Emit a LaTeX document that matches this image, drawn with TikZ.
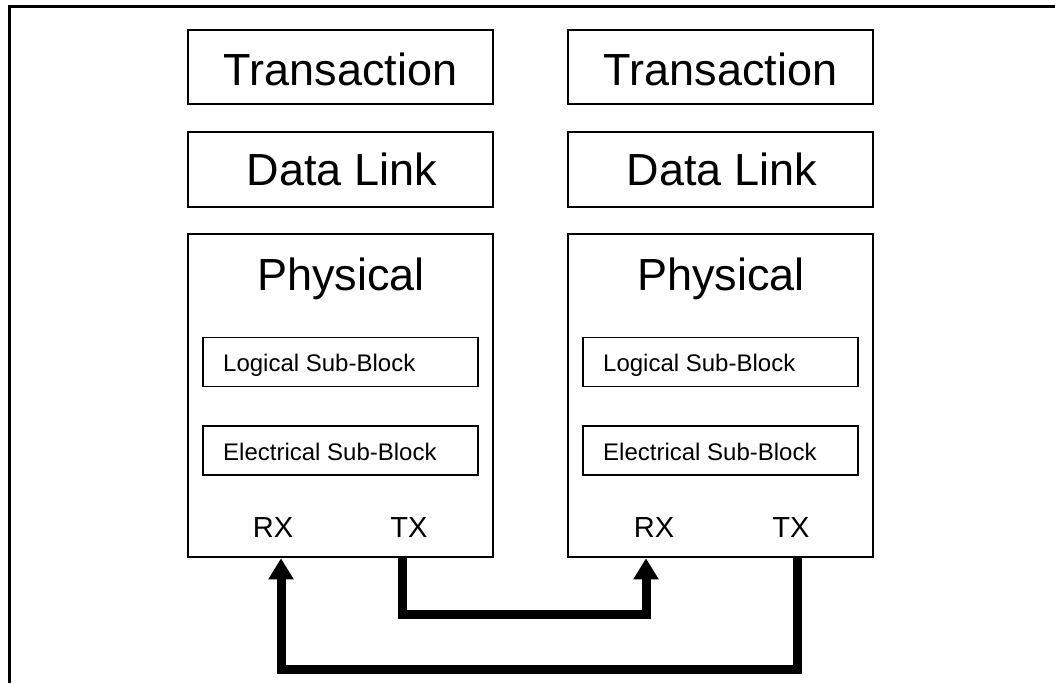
\documentclass[tikz,border=0pt]{standalone}
\usepackage{fontspec}
\setmainfont{Liberation Sans}
\usetikzlibrary{arrows.meta}
\tikzset{
  stackbox/.style={draw,line width=2.6pt,inner sep=0pt,minimum width=305pt},
  subbox/.style={draw,line width=1.8pt,inner sep=0pt,minimum width=275pt,minimum height=49pt},
  bigtxt/.style={inner sep=0pt,anchor=base,font=\fontsize{45pt}{54pt}\selectfont},
  subtxt/.style={inner sep=0pt,anchor=base west,font=\fontsize{24pt}{29pt}\selectfont},
  porttxt/.style={inner sep=0pt,anchor=base,font=\fontsize{29pt}{35pt}\selectfont},
  linkline/.style={line width=9pt,line join=miter,-{Triangle[width=24pt,length=21pt]}}
}
\begin{document}
\begin{tikzpicture}[x=1pt,y=-1pt]
\useasboundingbox (0,0) rectangle (1055,683);
% frame
\draw[line width=3pt] (9,683) -- (9,6) -- (1055,6);
% left stack
\node[stackbox,minimum height=74pt] (trL) at (340.5,67) {};
\node[stackbox,minimum height=75pt] (dlL) at (340.5,169.5) {};
\node[stackbox,minimum height=323pt] (phL) at (340.5,395.5) {};
\node[subbox] (lgL) at (340.5,362) {};
\node[subbox] (elL) at (340.5,450.5) {};
\node[bigtxt] (trLt) at (340.5,85) {Transaction};
\node[bigtxt] (dlLt) at (342,185) {Data Link};
\node[bigtxt] (phLt) at (341,290) {Physical};
\node[subtxt] (lgLt) at (223,371.5) {Logical Sub-Block};
\node[subtxt] (elLt) at (223,460) {Electrical Sub-Block};
\node[porttxt] (rxL) at (273,537) {RX};
\node[porttxt] (txL) at (409,537) {TX};
% right stack
\node[stackbox,minimum height=74pt] (trR) at (720.5,67) {};
\node[stackbox,minimum height=75pt] (dlR) at (720.5,169.5) {};
\node[stackbox,minimum height=323pt] (phR) at (720.5,395.5) {};
\node[subbox] (lgR) at (720.5,362) {};
\node[subbox] (elR) at (720.5,450.5) {};
\node[bigtxt] (trRt) at (720.5,85) {Transaction};
\node[bigtxt] (dlRt) at (722,185) {Data Link};
\node[bigtxt] (phRt) at (721,290) {Physical};
\node[subtxt] (lgRt) at (603,371.5) {Logical Sub-Block};
\node[subtxt] (elRt) at (603,460) {Electrical Sub-Block};
\node[porttxt] (rxR) at (654,537) {RX};
\node[porttxt] (txR) at (791,537) {TX};
% connector helpers
\coordinate (xrxL) at (281,0);
\coordinate (xtxL) at (402,0);
\coordinate (xrxR) at (646,0);
\coordinate (xtxR) at (797,0);
\coordinate (yMid) at (0,614);
\coordinate (yLow) at (0,669);
% connectors
\draw[linkline] (xtxL |- phL.south) -- (xtxL |- yMid) -| (xrxR |- phR.south);
\draw[linkline] (xtxR |- phR.south) -- (xtxR |- yLow) -| (xrxL |- phL.south);
\end{tikzpicture}
\end{document}
